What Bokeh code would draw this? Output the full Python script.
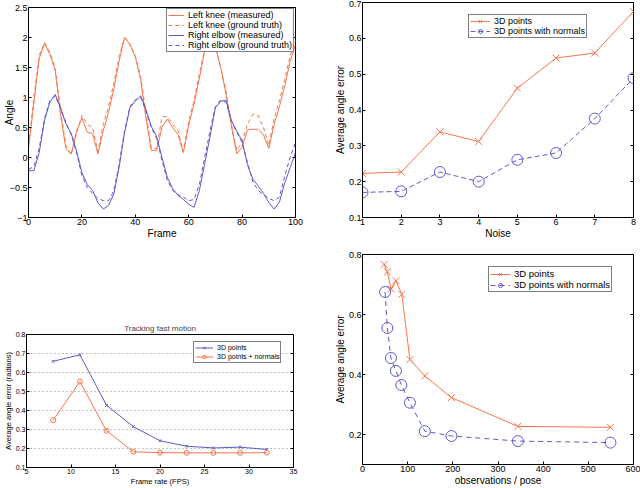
from bokeh.plotting import figure
from bokeh.layouts import column, row
from bokeh.models import FixedTicker, Range1d, LinearAxis
from bokeh.embed import file_html
from bokeh.resources import INLINE

ORANGE = "#f4764f"
BLUE = "#5c5cc8"
FONT = "Liberation Sans"

# ---------------- Plot 1: joint angles over frames ----------------
frames = list(range(0, 101, 2))
knee_meas = [0.15, 0.90, 1.65, 1.90, 1.72, 1.45, 0.72, 0.15, 0.06, 0.44,
             0.66, 0.42, 0.40, 0.06, 0.45, 0.75, 1.15, 1.62, 2.00, 1.88,
             1.68, 1.30, 0.65, 0.12, 0.12, 0.50, 0.64, 0.50, 0.38, 0.08,
             0.54, 0.89, 1.32, 1.78, 2.00, 1.85, 1.50, 1.05, 0.52, 0.06,
             0.17, 0.46, 0.47, 0.47, 0.38, 0.15, 0.55, 0.85, 1.20, 1.60, 1.88]
knee_true = [0.20, 1.00, 1.70, 1.92, 1.75, 1.50, 0.80, 0.20, 0.05, 0.40,
             0.70, 0.55, 0.50, 0.10, 0.55, 0.85, 1.25, 1.70, 2.00, 1.90,
             1.70, 1.35, 0.75, 0.15, 0.15, 0.68, 0.68, 0.55, 0.45, 0.10,
             0.60, 0.95, 1.40, 1.80, 2.00, 1.85, 1.50, 1.10, 0.55, 0.12,
             0.25, 0.55, 0.72, 0.70, 0.50, 0.20, 0.65, 0.95, 1.30, 1.70, 1.95]
elbow_meas = [-0.22, -0.22, 0.08, 0.62, 0.92, 1.05, 0.83, 0.56, 0.40, 0.11,
              -0.25, -0.45, -0.55, -0.75, -0.86, -0.80, -0.60, -0.15, 0.42, 0.83,
              0.94, 1.03, 0.80, 0.52, 0.35, 0.00, -0.33, -0.52, -0.63, -0.70,
              -0.78, -0.83, -0.55, -0.10, 0.35, 0.83, 0.94, 0.95, 0.62, 0.44,
              0.28, -0.12, -0.36, -0.47, -0.60, -0.75, -0.86, -0.74, -0.42, -0.17, 0.08]
elbow_true = [-0.20, -0.15, 0.15, 0.65, 0.95, 1.02, 0.82, 0.58, 0.38, 0.08,
              -0.30, -0.50, -0.60, -0.68, -0.72, -0.72, -0.55, -0.10, 0.45, 0.85,
              0.96, 1.00, 0.78, 0.50, 0.32, -0.05, -0.38, -0.55, -0.62, -0.66,
              -0.72, -0.70, -0.45, 0.00, 0.45, 0.85, 0.96, 0.92, 0.60, 0.42,
              0.25, -0.08, -0.40, -0.55, -0.62, -0.68, -0.72, -0.66, -0.30, 0.00, 0.25]
p1_xticks = [0, 20, 40, 60, 80, 100]
p1_yticks = [-1, -0.5, 0, 0.5, 1, 1.5, 2, 2.5]

# ---------------- Plot 2: error vs noise ----------------
noise = [1, 2, 3, 4, 5, 6, 7, 8]
noise_err_pts = [0.223, 0.227, 0.339, 0.312, 0.461, 0.545, 0.559, 0.675]
noise_err_norm = [0.170, 0.173, 0.227, 0.200, 0.261, 0.280, 0.376, 0.489]
p2_xticks = [1, 2, 3, 4, 5, 6, 7, 8]
p2_yticks = [0.1, 0.2, 0.3, 0.4, 0.5, 0.6, 0.7]

# ---------------- Plot 3: tracking fast motion ----------------
fps = [8, 11, 14, 17, 20, 23, 26, 29, 32]
fps_err_pts = [0.659, 0.693, 0.427, 0.315, 0.241, 0.212, 0.203, 0.207, 0.195]
fps_err_norm = [0.349, 0.552, 0.293, 0.183, 0.178, 0.177, 0.177, 0.177, 0.178]
p3_xticks = [5, 10, 15, 20, 25, 30, 35]
p3_yticks = [0.1, 0.2, 0.3, 0.4, 0.5, 0.6, 0.7, 0.8]

# ---------------- Plot 4: error vs observations ----------------
obs_pts = [48, 55, 63, 74, 87, 105, 138, 197, 344, 549]
obs_err_pts = [0.767, 0.742, 0.685, 0.713, 0.667, 0.450, 0.395, 0.323, 0.227, 0.224]
obs_norm = [50, 55, 63, 74, 86, 105, 138, 197, 344, 549]
obs_err_norm = [0.675, 0.555, 0.455, 0.412, 0.365, 0.306, 0.211, 0.195, 0.178, 0.173]
p4_xticks = [0, 100, 200, 300, 400, 500, 600]
p4_yticks = [0.2, 0.4, 0.6, 0.8]


def make_fig(w, h, xr, yr, xt, yt, borders, tick_fs, lab_fs, xlabel, ylabel):
    l, r, t, b = borders
    p = figure(width=w, height=h, x_range=Range1d(*xr), y_range=Range1d(*yr),
               output_backend="svg", toolbar_location=None,
               min_border_left=l, min_border_right=r, min_border_top=t,
               min_border_bottom=b)
    p.outline_line_color = "black"
    p.outline_line_alpha = 1
    p.xgrid.visible = False
    p.ygrid.visible = False
    p.xaxis.ticker = FixedTicker(ticks=xt)
    p.yaxis.ticker = FixedTicker(ticks=yt)
    for ax in p.xaxis + p.yaxis:
        ax.major_tick_in = 3
        ax.major_tick_out = 0
        ax.minor_tick_in = 0
        ax.minor_tick_out = 0
        ax.axis_line_color = "black"
        ax.major_tick_line_color = "black"
        ax.major_label_text_font = FONT
        ax.major_label_text_font_size = tick_fs
        ax.major_label_text_color = "black"
        ax.major_label_standoff = 1
        ax.axis_label_text_font = FONT
        ax.axis_label_text_font_size = lab_fs
        ax.axis_label_text_font_style = "normal"
        ax.axis_label_text_color = "black"
        ax.axis_label_standoff = 0
    if xlabel:
        p.xaxis.axis_label = xlabel
    if ylabel:
        p.yaxis.axis_label = ylabel
    # mirrored ticks on the right side (Matlab style box)
    rax = LinearAxis(ticker=FixedTicker(ticks=yt), major_tick_in=3, major_tick_out=0,
                     minor_tick_in=0, minor_tick_out=0, axis_line_color=None,
                     major_label_text_color=None, major_label_text_font_size="1px",
                     major_label_standoff=0)
    p.add_layout(rax, "right")
    return p


def style_legend(p, fs, loc, gw=16, gh=10):
    lg = p.legend[0]
    lg.location = loc
    lg.label_text_font = FONT
    lg.label_text_font_size = fs
    lg.label_text_color = "black"
    lg.glyph_width = gw
    lg.glyph_height = gh
    lg.label_height = gh
    lg.spacing = 0
    lg.padding = 1
    lg.margin = 1
    lg.label_standoff = 4
    lg.border_line_color = "black"
    lg.border_line_width = 1
    lg.background_fill_alpha = 1


# ---- p1 ----
p1 = make_fig(320, 245, (0, 100), (-1, 2.5), p1_xticks, p1_yticks,
              (28, 25, 7, 28), "9px", "10px", "Frame", "Angle")
p1.yaxis[0].axis_label_standoff = -8
p1.line(frames, knee_meas, color=ORANGE, line_width=1, legend_label="Left knee (measured)")
p1.line(frames, knee_true, color=ORANGE, line_width=1, line_dash="4 3",
        legend_label="Left knee (ground truth)")
p1.line(frames, elbow_meas, color=BLUE, line_width=1, legend_label="Right elbow (measured)")
p1.line(frames, elbow_true, color=BLUE, line_width=1, line_dash="4 3",
        legend_label="Right elbow (ground truth)")
style_legend(p1, "9px", "top_right")

# ---- p2 ----
p2 = make_fig(320, 245, (1, 8), (0.1, 0.7), p2_xticks, p2_yticks,
              (42, 7, 2, 28), "9px", "10px", "Noise", "Average angle error")
p2.line(noise, noise_err_pts, color=ORANGE, line_width=1, legend_label="3D points")
p2.scatter(noise, noise_err_pts, marker="x", size=10, line_color=ORANGE,
           legend_label="3D points")
p2.line(noise, noise_err_norm, color=BLUE, line_width=1, line_dash="5 3",
        legend_label="3D points with normals")
p2.scatter(noise, noise_err_norm, marker="circle", size=11, line_color=BLUE,
           fill_color=None, legend_label="3D points with normals")
style_legend(p2, "9px", (106, 179), gw=20)

# ---- p3 ----
p3 = make_fig(320, 243, (5, 35), (0.1, 0.8), p3_xticks, p3_yticks,
              (23, 27, 89, 20), "7px", "7.5px", "Frame rate (FPS)",
              "Average angle error (radians)")
p3.ygrid.visible = True
p3.ygrid.ticker = FixedTicker(ticks=p3_yticks)
p3.ygrid.grid_line_color = "#888888"
p3.ygrid.grid_line_dash = "1 3"
p3.title.text = "Tracking fast motion"
p3.title.align = "center"
p3.title.text_font = FONT
p3.title.text_font_size = "8px"
p3.title.text_font_style = "normal"
p3.title.standoff = 3
p3.line(fps, fps_err_pts, color=BLUE, line_width=1, legend_label="3D points")
p3.scatter(fps, fps_err_pts, marker="x", size=4, line_color=BLUE, legend_label="3D points")
p3.line(fps, fps_err_norm, color=ORANGE, line_width=1, legend_label="3D points + normals")
p3.scatter(fps, fps_err_norm, marker="circle", size=5, line_color=ORANGE,
           fill_color=None, legend_label="3D points + normals")
style_legend(p3, "7px", (167, 104), gw=18, gh=9)

# ---- p4 ----
p4 = make_fig(320, 243, (0, 600), (0.1, 0.8), p4_xticks, p4_yticks,
              (42, 7, 9, 24), "9px", "10px", "observations / pose", "Average angle error")
p4.line(obs_pts, obs_err_pts, color=ORANGE, line_width=1, legend_label="3D points")
p4.scatter(obs_pts, obs_err_pts, marker="x", size=10, line_color=ORANGE,
           legend_label="3D points")
p4.line(obs_norm, obs_err_norm, color=BLUE, line_width=1, line_dash="5 4",
        legend_label="3D points with normals")
p4.scatter(obs_norm, obs_err_norm, marker="circle", size=11, line_color=BLUE,
           fill_color=None, legend_label="3D points with normals")
style_legend(p4, "9.5px", (126, 172), gw=20)

layout = row(column(p1, row(p3)), column(p2, row(p4)))
open("out.html", "w").write(file_html(layout, INLINE))
